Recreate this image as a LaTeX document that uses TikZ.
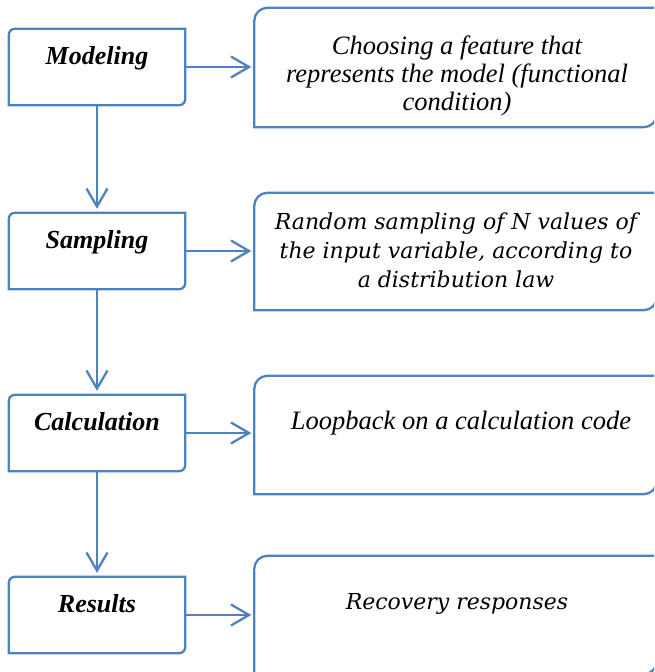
\documentclass[tikz,border=0pt]{standalone}
\usepackage{fontspec}
\setmainfont{Liberation Serif}
\newfontfamily\cambriafont{DejaVu Serif}
\usetikzlibrary{arrows.meta}
\definecolor{boxblue}{HTML}{4F81BD}
\tikzset{
  lbox/.style={draw=none, minimum width=176pt, minimum height=76pt, inner sep=0pt},
  rbox/.style={draw=none, minimum width=402pt, inner sep=0pt},
  outline/.style={draw=boxblue, line width=2.3pt},
  conn/.style={draw=boxblue, line width=2.3pt, -{Straight Barb[length=18pt,width=21pt]}},
  ltext/.style={anchor=base, font=\fontsize{26}{28}\selectfont\bfseries\itshape, inner sep=0pt},
  rtext/.style={anchor=base, font=\fontsize{26.5}{28.5}\selectfont\itshape, inner sep=0pt},
  ctext/.style={anchor=base, font=\fontsize{22}{29}\selectfont\cambriafont\itshape, inner sep=0pt},
}
\newcommand\diagoutline[2]{%
  \draw[outline] (#1.south west) -- ([yshift=-#2]#1.north west)
    arc[start angle=180, end angle=90, radius=#2] -- (#1.north east)
    -- ([yshift=#2]#1.south east)
    arc[start angle=0, end angle=-90, radius=#2] -- cycle;}
\begin{document}
\begin{tikzpicture}[x=1pt,y=-1pt]
\useasboundingbox (0,0) rectangle (654,672);
\clip (0,0) rectangle (654,672);
% left boxes
\node[lbox] (m) at (97,67) {};
\node[lbox] (s) at (97,251) {};
\node[lbox] (c) at (97,433) {};
\node[lbox] (r) at (97,615) {};
% right boxes
\node[rbox, minimum height=119pt] (m2) at (455.5,67.5) {};
\node[rbox, minimum height=117pt] (s2) at (455.5,251.5) {};
\node[rbox, minimum height=118pt] (c2) at (455.5,435) {};
\node[rbox, minimum height=118pt] (r2) at (455.5,615) {};
\foreach \b in {m,s,c,r} {\diagoutline{\b}{6pt}}
\foreach \b in {m2,s2,c2,r2} {\diagoutline{\b}{13pt}}
% left texts
\node[ltext] (mt) at (97,64) {Modeling};
\node[ltext] (st) at (97,248) {Sampling};
\node[ltext] (ct) at (97,430) {Calculation};
\node[ltext] (rt) at (97,612) {Results};
% right texts
\node[rtext] (m2a) at (457,54) {Choosing a feature that};
\node[rtext] (m2b) at (457,82) {represents the model (functional};
\node[rtext] (m2c) at (457,110) {condition)};
\node[ctext] (s2a) at (456,229) {Random sampling of N values of};
\node[ctext] (s2b) at (456,258) {the input variable, according to};
\node[ctext] (s2c) at (456,287) {a distribution law};
\node[rtext] (c2a) at (461,429) {Loopback on a calculation code};
\node[ctext] (r2a) at (457,609) {Recovery responses};
% connectors
\draw[conn, shorten >=3pt] (m.east) -- (m.east -| m2.west);
\draw[conn, shorten >=3pt] (s.east) -- (s.east -| s2.west);
\draw[conn, shorten >=3pt] (c.east) -- (c.east -| c2.west);
\draw[conn, shorten >=3pt] (r.east) -- (r.east -| r2.west);
\draw[conn, shorten >=4pt] (m.south) -- (s.north);
\draw[conn, shorten >=4pt] (s.south) -- (c.north);
\draw[conn, shorten >=4pt] (c.south) -- (r.north);
\end{tikzpicture}
\end{document}
